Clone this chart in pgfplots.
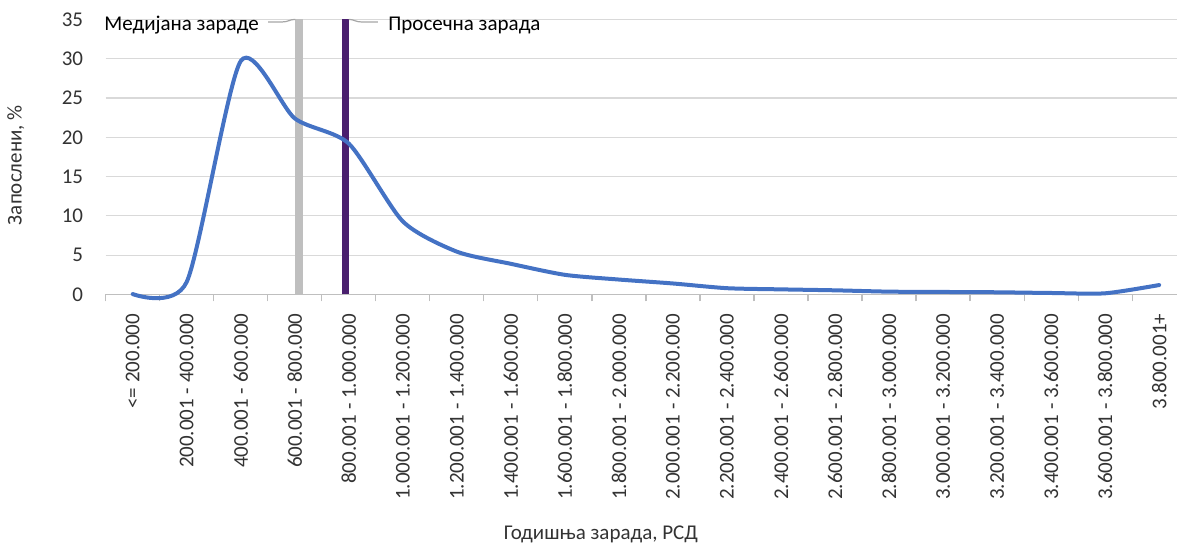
\documentclass[border=0pt]{standalone}
\usepackage{fontspec}
\setmainfont{Carlito}
\usepackage{pgfplots}
\pgfplotsset{compat=1.18}

\definecolor{curveblue}{HTML}{4472C4}
\definecolor{medgray}{HTML}{BFBFBF}
\definecolor{meanpurple}{HTML}{4A1F6E}
\definecolor{gridgray}{HTML}{D9D9D9}
\definecolor{axgray}{HTML}{BFBFBF}
\definecolor{leadgray}{HTML}{A6A6A6}
\definecolor{txt}{HTML}{333333}

\begin{document}
\begin{tikzpicture}[font=\fontsize{10.5bp}{12.6bp}\selectfont]
\begin{axis}[
    scale only axis,
    width=535.7bp, height=137.55bp,
    xmin=-0.5, xmax=19.33,
    ymin=0, ymax=35,
    clip=false,
    ytick={0,5,...,35},
    xtick={0,...,19},
    xticklabels={<= 200.000, 200.001 - 400.000, 400.001 - 600.000, 600.001 - 800.000,
        800.001 - 1.000.000, 1.000.001 - 1.200.000, 1.200.001 - 1.400.000,
        1.400.001 - 1.600.000, 1.600.001 - 1.800.000, 1.800.001 - 2.000.000,
        2.000.001 - 2.200.000, 2.200.001 - 2.400.000, 2.400.001 - 2.600.000,
        2.600.001 - 2.800.000, 2.800.001 - 3.000.000, 3.000.001 - 3.200.000,
        3.200.001 - 3.400.000, 3.400.001 - 3.600.000, 3.600.001 - 3.800.000,
        3.800.001+},
    minor xtick={-0.5,0.5,...,18.5},
    major tick length=0pt,
    minor tick length=3.5bp,
    tick align=outside,
    xtick pos=bottom,
    ytick pos=left,
    ymajorgrids,
    grid style={gridgray, line width=0.6bp},
    axis x line*=bottom,
    axis y line*=left,
    x axis line style={axgray, line width=0.6bp, -},
    y axis line style={draw=none},
    minor tick style={axgray, line width=0.6bp},
    /pgf/number format/assume math mode=true,
    ticklabel style={text=txt},
    xticklabel shift=3.5bp,
    xticklabel style={rotate=90, anchor=east, xshift=-2.6bp},
    yticklabel style={anchor=east, xshift=-7.8bp},
    xlabel={Годишња зарада, РСД},
    ylabel={Запослени, \%},
    xlabel style={at={(axis description cs:0.4623,-0.892)}, anchor=base, text=txt},
    ylabel style={at={(axis description cs:-0.084,0.47)}, anchor=center, text=txt},
]
% median and mean markers
\addplot[medgray, line width=3.65bp] coordinates {(3.08,0) (3.08,35)};
\addplot[meanpurple, line width=3.65bp] coordinates {(3.935,0) (3.935,35)};

% share of employees per wage bracket
\addplot[curveblue, line width=2bp, line cap=round, smooth, tension=0.42]
    coordinates {
    (0,  0.05)
    (1,  1.6)
    (2,  29.7)
    (3,  22.4)
    (4,  19.2)
    (5,  9.3)
    (6,  5.45)
    (7,  3.9)
    (8,  2.5)
    (9,  1.9)
    (10, 1.4)
    (11, 0.8)
    (12, 0.65)
    (13, 0.53)
    (14, 0.36)
    (15, 0.32)
    (16, 0.28)
    (17, 0.19)
    (18, 0.15)
    (19, 1.2)
    };

\draw[leadgray, line width=0.6bp] (axis cs:2.507,34.67) -- (axis cs:2.76,34.67)
    .. controls (axis cs:2.88,34.67) and (axis cs:2.9,35) .. (axis cs:3.01,35);
\draw[leadgray, line width=0.6bp] (axis cs:4.0,35)
    .. controls (axis cs:4.1,35) and (axis cs:4.12,34.67) .. (axis cs:4.24,34.67)
    -- (axis cs:4.54,34.67);
\node[anchor=base east, inner sep=0pt, text=black] at (axis cs:2.34,33.65) {Медијана зараде};
\node[anchor=base west, inner sep=0pt, text=black] at (axis cs:4.725,33.65) {Просечна зарада};
\end{axis}
\pgfresetboundingbox
\useasboundingbox (-52.85bp,-125.75bp) rectangle (535.7bp,147.25bp);
\end{tikzpicture}
\end{document}
